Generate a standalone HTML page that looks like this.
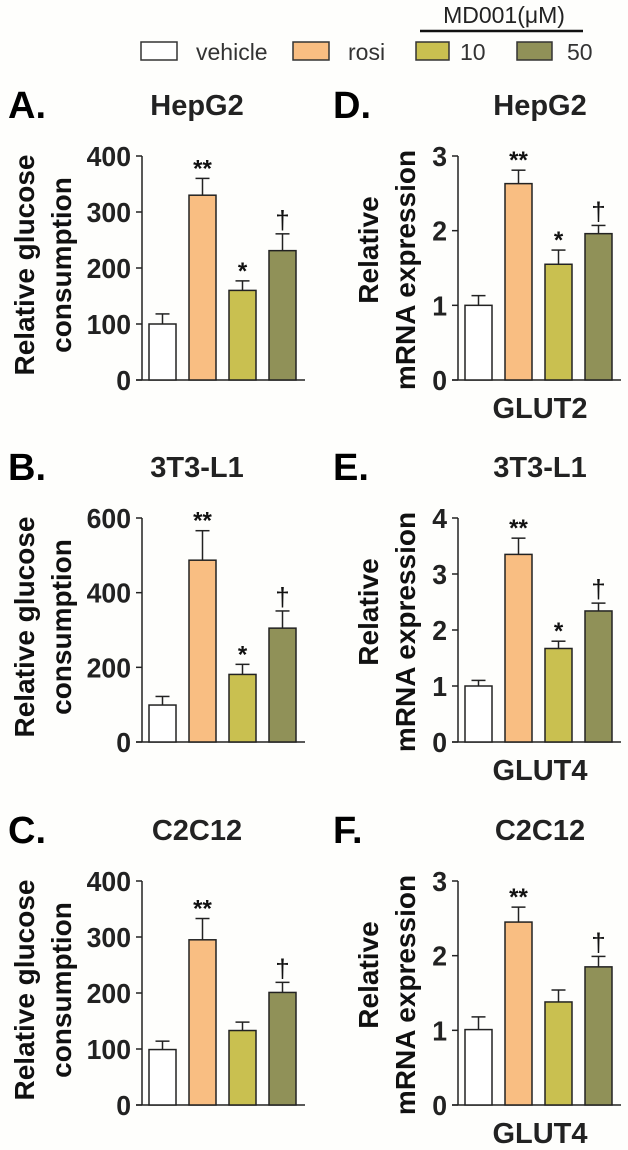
<!DOCTYPE html>
<html><head><meta charset="utf-8">
<style>
html,body{margin:0;padding:0;background:#fff;}
svg{display:block;font-family:"Liberation Sans",Arial,sans-serif;}
</style></head>
<body>
<svg id="fig" width="628" height="1150" viewBox="0 0 628 1150">
  <rect x="0" y="0" width="628" height="1150" fill="#fefefc"/>
  <g>
    <text x="504" y="23" font-size="23" text-anchor="middle" fill="#222">MD001(μM)</text>
    <line x1="420" y1="31" x2="583" y2="31" stroke="#111" stroke-width="2.5"/>
    <rect x="141" y="42" width="36" height="18" fill="#fff" stroke="#333" stroke-width="1.5"/>
    <text x="196" y="60" font-size="23" fill="#333">vehicle</text>
    <rect x="293" y="42" width="36" height="18" fill="#f9be82" stroke="#333" stroke-width="1.5"/>
    <text x="348" y="60" font-size="23" fill="#333">rosi</text>
    <rect x="416" y="42" width="33" height="18" fill="#c9c050" stroke="#333" stroke-width="1.5"/>
    <text x="460" y="60" font-size="23" fill="#333">10</text>
    <rect x="517" y="42" width="35" height="18" fill="#909158" stroke="#333" stroke-width="1.5"/>
    <text x="567" y="60" font-size="23" fill="#333">50</text>
  </g>
</svg>
<script>
// ---- data ----
const groups = ["vehicle", "rosi", "MD001-10", "MD001-50"];
const colors = ["#ffffff", "#f9be82", "#c9c050", "#909158"];
const panelLabels = ["A.", "B.", "C.", "D.", "E.", "F."];
const panelTitles = ["HepG2", "3T3-L1", "C2C12", "HepG2", "3T3-L1", "C2C12"];
const genes = ["", "", "", "GLUT2", "GLUT4", "GLUT4"];
const yMaxes = [400, 600, 400, 3, 4, 3];
const yStep = [100, 200, 100, 1, 1, 1];
const meanA = [100, 330, 160, 231];
const errA = [118, 360, 177, 261];
const meanB = [99, 487, 181, 305];
const errB = [122, 566, 208, 351];
const meanC = [99, 295, 133, 201];
const errC = [114, 333, 148, 219];
const meanD = [1.0, 2.63, 1.55, 1.96];
const errD = [1.13, 2.81, 1.74, 2.07];
const meanE = [1.0, 3.35, 1.67, 2.34];
const errE = [1.10, 3.64, 1.80, 2.48];
const meanF = [1.01, 2.45, 1.38, 1.85];
const errF = [1.18, 2.65, 1.54, 1.99];
const sigA = ["", "**", "*", "†"];
const sigB = ["", "**", "*", "†"];
const sigC = ["", "**", "", "†"];
const sigD = ["", "**", "*", "†"];
const sigE = ["", "**", "*", "†"];
const sigF = ["", "**", "", "†"];

const means = [meanA, meanB, meanC, meanD, meanE, meanF];
const errs = [errA, errB, errC, errD, errE, errF];
const sigs = [sigA, sigB, sigC, sigD, sigE, sigF];

const NS = "http://www.w3.org/2000/svg";
const svg = document.getElementById("fig");
function mk(tag, attrs, parent, text) {
  const el = document.createElementNS(NS, tag);
  for (const k in attrs) el.setAttribute(k, attrs[k]);
  if (text !== undefined) el.textContent = text;
  parent.appendChild(el);
  return el;
}

for (let p = 0; p < 6; p++) {
  const col = p < 3 ? 0 : 1;
  const row = p % 3;
  const axisX = col === 0 ? 142 : 458;
  const axisEnd = col === 0 ? 305 : 621;
  const y0 = [380, 742, 1105][row];
  const H = 224;
  const yMax = yMaxes[p];
  const yScale = v => y0 - v / yMax * H;
  const xBand = i => axisX + 7 + i * 40;
  const bw = 27;

  const g = mk("g", {}, svg);
  
  

  const lbl = mk("text", {x: col === 0 ? 8 : 333, y: y0 - 262, "font-size": 38, "font-weight": "bold", fill: "#000"}, g, panelLabels[p]);
  
  

  const ttl = mk("text", {x: col === 0 ? 197 : 540, y: y0 - 265, "font-size": 29, "font-weight": "bold", "text-anchor": "middle", fill: "#222"}, g, panelTitles[p]);
  
  

  const cy = y0 - 115;
  if (col === 0) {
    const t1 = mk("text", {x: 0, y: 0, transform: `translate(34 ${cy}) rotate(-90)`, "font-size": 28, "font-weight": "bold", "text-anchor": "middle", fill: "#111"}, g, "Relative glucose");
    
    
    const t2 = mk("text", {x: 0, y: 0, transform: `translate(71 ${cy}) rotate(-90)`, "font-size": 28, "font-weight": "bold", "text-anchor": "middle", fill: "#111"}, g, "consumption");
    
    
  } else {
    const t1 = mk("text", {x: 0, y: 0, transform: `translate(378 ${cy - 15}) rotate(-90)`, "font-size": 28, "font-weight": "bold", "text-anchor": "middle", fill: "#111"}, g, "Relative");
    
    
    const t2 = mk("text", {x: 0, y: 0, transform: `translate(415 ${cy + 5}) rotate(-90)`, "font-size": 28, "font-weight": "bold", "text-anchor": "middle", fill: "#111"}, g, "mRNA expression");
    
    
    const gl = mk("text", {x: 540, y: y0 + 38, "font-size": 29, "font-weight": "bold", "text-anchor": "middle", fill: "#222"}, g, genes[p]);
    
    
  }

  const ya = mk("line", {x1: axisX, y1: y0, x2: axisX, y2: yScale(yMax), stroke: "#222", "stroke-width": 1.5}, g);
  
  
  const xa = mk("line", {x1: axisX - 6, y1: y0, x2: axisEnd, y2: y0, stroke: "#222", "stroke-width": 1.5}, g);
  
  
  for (let v = 0; v <= yMax + 1e-9; v += yStep[p]) {
    const y = yScale(v);
    const tk = mk("line", {x1: axisX - 6, y1: y, x2: axisX, y2: y, stroke: "#222", "stroke-width": 1.5}, g);
    
    
    const tx = axisX - 11;
    const tl = mk("text", {x: tx, y: y + 10, "font-size": 28, "font-weight": "bold", "text-anchor": "end", fill: "#222", transform: `translate(${tx * 0.05} 0) scale(0.95 1)`}, g, String(v));
    
    
  }

  for (let i = 0; i < 4; i++) {
    const x = xBand(i);
    const cxm = x + bw / 2;
    const ey = yScale(errs[p][i]);
    const el = mk("line", {x1: cxm, y1: yScale(means[p][i]), x2: cxm, y2: ey, stroke: "#222", "stroke-width": 1.5}, g);
    
    
    const ec = mk("line", {x1: cxm - 7, y1: ey, x2: cxm + 7, y2: ey, stroke: "#222", "stroke-width": 1.5}, g);
    
    
    const b = mk("rect", {x: x, y: yScale(means[p][i]), width: bw, height: y0 - yScale(means[p][i]), fill: colors[i], stroke: "#222", "stroke-width": 1.5}, g);
    
    
    const s = sigs[p][i];
    if (s === "†") {
      const dg = mk("text", {x: cxm, y: ey - 5, "font-size": 26, "text-anchor": "middle", fill: "#111"}, g, "†");
      
      
    } else if (s) {
      const st = mk("text", {x: cxm, y: ey + 12, "font-size": 24, "font-weight": "bold", "text-anchor": "middle", fill: "#111", transform: `translate(0 -14)`}, g, s);
      
      
    }
  }
}
</script>
</body></html>
